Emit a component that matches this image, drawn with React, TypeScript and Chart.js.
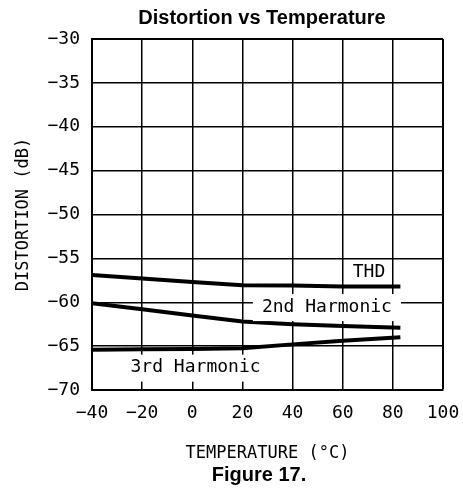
import React, { useEffect, useRef } from "react";
import { Chart, registerables } from "chart.js";

Chart.register(...registerables);

const temperatures = [-40, -20, 0, 20, 40, 60, 83];
const thdValues = [-56.9, -57.3, -57.7, -58.05, -58.1, -58.2, -58.2];
const secondHarmonic = [-60.1, -60.8, -61.5, -62.2, -62.5, -62.7, -62.9];
const thirdHarmonic = [-65.4, -65.37, -65.33, -65.25, -64.8, -64.4, -64.0];

const seriesNames = ["THD", "2nd Harmonic", "3rd Harmonic"];
const labelAnchors = [
  { x: 70.5, y: -56.55, box: false },
  { x: 53.7, y: -60.55, box: true },
  { x: 1.3, y: -67.45, box: true },
];

const chartTitle = "Distortion vs Temperature";
const figureCaption = "Figure 17.";
const xTitle = "TEMPERATURE (°C)";
const yTitle = "DISTORTION (dB)";

const MONO = "'DejaVu Sans Mono', monospace";
const SANS = "'Liberation Sans', Arial, sans-serif";

const fmt = (v: number) => (v < 0 ? "\u2212" + String(-v) : String(v));

const textPlugin = {
  id: "textPlugin",
  afterDatasetsDraw(chart: any) {
    const { ctx, scales } = chart;
    const xs = scales.x;
    const ys = scales.y;
    ctx.save();
    ctx.font = `18px ${MONO}`;
    ctx.textAlign = "center";
    ctx.textBaseline = "middle";
    seriesNames.forEach((name, i) => {
      const a = labelAnchors[i];
      const px = xs.getPixelForValue(a.x);
      const py = ys.getPixelForValue(a.y);
      const w = ctx.measureText(name).width;
      if (a.box) {
        ctx.fillStyle = "#ffffff";
        ctx.fillRect(px - w / 2 - 9, py - 13, w + 18, 27);
      }
      ctx.fillStyle = "#000000";
      ctx.fillText(name, px, py);
    });
    ctx.restore();
  },
  afterDraw(chart: any) {
    const { ctx } = chart;
    ctx.save();
    ctx.fillStyle = "#000000";
    ctx.textAlign = "center";
    ctx.textBaseline = "middle";
    ctx.font = `bold 20px ${SANS}`;
    ctx.fillText(chartTitle, 262, 18);
    ctx.fillText(figureCaption, 259, 475);
    ctx.restore();
  },
};

export default function App() {
  const ref = useRef<HTMLCanvasElement>(null);

  useEffect(() => {
    document.body.style.margin = "0";
    const canvas = ref.current;
    if (!canvas) return;
    const mk = (vals: number[]) => temperatures.map((t, i) => ({ x: t, y: vals[i] }));
    const lineStyle = {
      borderColor: "#000000",
      borderWidth: 4,
      pointRadius: 0,
      tension: 0,
      fill: false,
    };
    const chart = new Chart(canvas, {
      type: "line",
      data: {
        datasets: [
          { label: seriesNames[0], data: mk(thdValues), ...lineStyle },
          { label: seriesNames[1], data: mk(secondHarmonic), ...lineStyle },
          { label: seriesNames[2], data: mk(thirdHarmonic), ...lineStyle },
        ],
      },
      options: {
        responsive: false,
        animation: false,
        layout: { padding: { top: 39, right: 20, bottom: 24, left: 0 } },
        plugins: {
          legend: { display: false },
          tooltip: { enabled: false },
          title: { display: false },
        },
        scales: {
          x: {
            type: "linear",
            min: -40,
            max: 100,
            afterFit: (s: any) => {
              s.height = 74;
            },
            ticks: {
              stepSize: 20,
              color: "#000000",
              padding: 0,
              maxRotation: 0,
              font: { family: MONO, size: 18 },
              callback: (v: any) => fmt(Number(v)),
            },
            grid: {
              color: "#000000",
              lineWidth: (c: any) => (c.tick && c.tick.value === 100 ? 2 : 1.5),
              drawTicks: true,
              tickLength: 13,
              tickColor: "rgba(0,0,0,0)",
            },
            border: { color: "#000000", width: 2 },
            title: {
              display: true,
              text: xTitle,
              color: "#000000",
              font: { family: MONO, size: 17 },
              padding: { top: 0, bottom: 0 },
            },
          },
          y: {
            type: "linear",
            min: -70,
            max: -30,
            afterFit: (s: any) => {
              s.width = 92;
            },
            ticks: {
              stepSize: 5,
              color: "#000000",
              padding: 0,
              font: { family: MONO, size: 18 },
              callback: (v: any) => fmt(Number(v)),
            },
            grid: {
              color: "#000000",
              lineWidth: (c: any) => (c.tick && c.tick.value === -30 ? 2 : 1.5),
              drawTicks: true,
              tickLength: 12,
              tickColor: "rgba(0,0,0,0)",
            },
            border: { color: "#000000", width: 2 },
            title: {
              display: true,
              text: yTitle,
              color: "#000000",
              font: { family: MONO, size: 17 },
              padding: { top: 13, bottom: 0 },
            },
          },
        },
      },
      plugins: [textPlugin],
    });
    return () => chart.destroy();
  }, []);

  return (
    <div style={{ width: 463, height: 488, background: "#ffffff" }}>
      <canvas ref={ref} width={463} height={488} />
    </div>
  );
}
